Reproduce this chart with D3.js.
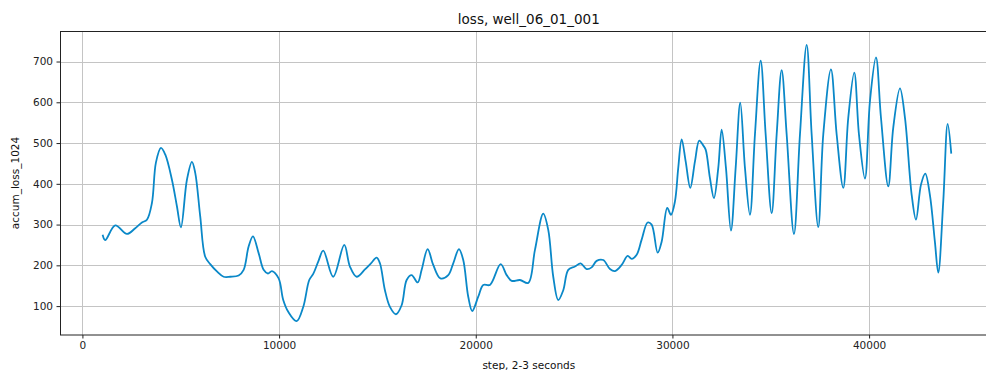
<!DOCTYPE html>
<html>
<head>
<meta charset="utf-8">
<script src="https://cdn.jsdelivr.net/npm/d3@7"></script>
<style>
  html, body { margin: 0; padding: 0; background: #fff; }
  svg { display: block; font-family: "DejaVu Sans", sans-serif; }
</style>
</head>
<body>
<svg id="chart" width="986" height="370"></svg>
<script>
// Training step for each logged point
const steps = [
  1027, 1159, 1668, 2263, 2685, 3026, 3280, 3534, 3737, 3992,
  4210, 4551, 4805, 5009, 5314, 5568, 5736, 5990, 6244, 6499,
  6839, 7180, 7516, 7943, 8197, 8451, 8670, 8960, 9214, 9433,
  9636, 9977, 10211, 10465, 10892, 11228, 11533, 11736, 11990, 12245,
  12753, 13313, 13602, 13943, 14365, 14670, 14960, 15128, 15382, 15636,
  15941, 16231, 16486, 16740, 17045, 17249, 17554, 17838, 18200, 18601,
  18855, 19145, 19364, 19618, 19821, 20126, 20381, 20721, 21265, 21571,
  21825, 22247, 22669, 23010, 23432, 23686, 23940, 24194, 24449, 24703,
  25043, 25333, 25638, 25893, 26147, 26483, 26824, 27078, 27418, 27723,
  27927, 28181, 28435, 28740, 28944, 29249, 29452, 29737, 29925, 30129,
  30296, 30469, 30673, 30907, 31146, 31364, 31568, 31690, 31908, 32112,
  32331, 32503, 32722, 32976, 33215, 33449, 33688, 33942, 34196, 34487,
  34741, 35046, 35300, 35554, 35809, 36180, 36485, 36826, 37080, 37416,
  37670, 38061, 38351, 38687, 38941, 39246, 39485, 39790, 40044, 40350,
  40604, 40975, 41229, 41570, 41824, 42165, 42384, 42638, 42856, 43091,
  43345, 43517, 43771, 43995, 44178, 44367
];

// accum_loss_1024 at each step
const loss = [
  275, 262, 298, 277, 291, 305, 312, 353, 452, 488,
  472, 410, 345, 293, 410, 454, 427, 320, 221, 203,
  185, 172, 172, 175, 189, 246, 271, 230, 189, 180,
  186, 168, 115, 86, 63, 98, 164, 179, 209, 236,
  172, 250, 197, 172, 190, 205, 219, 205, 139, 98,
  80, 102, 164, 176, 158, 189, 240, 201, 168, 176,
  205, 240, 213, 123, 88, 123, 152, 152, 203, 176,
  162, 164, 157, 238, 327, 287, 172, 115, 139, 189,
  197, 205, 191, 195, 211, 213, 191, 186, 201, 223,
  216, 226, 263, 305, 300, 231, 258, 341, 324, 357,
  439, 509, 455, 390, 455, 506, 494, 484, 414, 365,
  439, 533, 439, 285, 439, 599, 439, 324, 521, 702,
  521, 328, 521, 679, 521, 277, 521, 741, 521, 294,
  521, 681, 521, 390, 562, 673, 521, 413, 603, 710,
  562, 394, 538, 634, 562, 373, 312, 398, 425, 373,
  258, 182, 357, 547, 474
];

const xTicks = [0, 10000, 20000, 30000, 40000];
const yTicks = [100, 200, 300, 400, 500, 600, 700];

const titleText = "loss, well_06_01_001";
const xLabel = "step, 2-3 seconds";
const yLabel = "accum_loss_1024";

const svg = d3.select("#chart");
const mLeft = 60, mTop = 31, plotW = 937.6, plotH = 304;

// Axis limits padded by 5% of the data span on each side
const xExt = d3.extent(steps), yExt = d3.extent(loss);
const xPad = (xExt[1] - xExt[0]) * 0.05, yPad = (yExt[1] - yExt[0]) * 0.05;

const x = d3.scaleLinear().domain([xExt[0] - xPad, xExt[1] + xPad]).range([mLeft, mLeft + plotW]);
const y = d3.scaleLinear().domain([yExt[0] - yPad, yExt[1] + yPad]).range([mTop + plotH, mTop]);

svg.append("defs").append("clipPath").attr("id", "plotClip")
  .append("rect").attr("x", mLeft).attr("y", mTop).attr("width", plotW).attr("height", plotH);

// Grid
const grid = svg.append("g").attr("stroke", "#c4c4c4").attr("stroke-width", 1);
grid.selectAll("line.v").data(xTicks).join("line").attr("class", "v")
  .attr("x1", d => Math.round(x(d)) + 0.5).attr("x2", d => Math.round(x(d)) + 0.5)
  .attr("y1", mTop).attr("y2", mTop + plotH);
grid.selectAll("line.h").data(yTicks).join("line").attr("class", "h")
  .attr("y1", d => Math.round(y(d)) + 0.5).attr("y2", d => Math.round(y(d)) + 0.5)
  .attr("x1", mLeft).attr("x2", mLeft + plotW);

// Loss curve
const line = d3.line()
  .x((d, i) => x(steps[i]))
  .y(d => y(d))
  .curve(d3.curveCatmullRom.alpha(0.5));

svg.append("path")
  .datum(loss)
  .attr("clip-path", "url(#plotClip)")
  .attr("fill", "none")
  .attr("stroke", "#0a88c8")
  .attr("stroke-width", 1.8)
  .attr("stroke-linejoin", "round")
  .attr("d", line);

// Axes
const xAxis = d3.axisBottom(x).tickValues(xTicks).tickFormat(d3.format("d"))
  .tickSize(3.5).tickPadding(3.5).tickSizeOuter(0);
const yAxis = d3.axisLeft(y).tickValues(yTicks).tickFormat(d3.format("d"))
  .tickSize(3.5).tickPadding(3.5).tickSizeOuter(0);

const gx = svg.append("g").attr("transform", `translate(0,${mTop + plotH})`).call(xAxis);
const gy = svg.append("g").attr("transform", `translate(${mLeft},0)`).call(yAxis);
[gx, gy].forEach(g => {
  g.select(".domain").remove();
  g.selectAll(".tick line").attr("stroke", "#222");
  g.selectAll(".tick text").attr("fill", "#222").style("font-size", "10.5px")
    .style("font-family", "DejaVu Sans, sans-serif");
});

// Frame
svg.append("rect")
  .attr("x", mLeft + 0.5).attr("y", mTop + 0.5)
  .attr("width", plotW).attr("height", plotH - 0.5)
  .attr("fill", "none").attr("stroke", "#222").attr("stroke-width", 1);

// Titles
svg.append("text")
  .attr("x", mLeft + plotW / 2).attr("y", 24)
  .attr("text-anchor", "middle").attr("fill", "#111")
  .style("font-size", "13.5px")
  .text(titleText);

svg.append("text")
  .attr("x", mLeft + plotW / 2).attr("y", 369)
  .attr("text-anchor", "middle").attr("fill", "#111")
  .style("font-size", "10.5px")
  .text(xLabel);

svg.append("text")
  .attr("transform", `translate(19,${mTop + plotH / 2}) rotate(-90)`)
  .attr("text-anchor", "middle").attr("fill", "#111")
  .style("font-size", "10.5px")
  .text(yLabel);
</script>
</body>
</html>
